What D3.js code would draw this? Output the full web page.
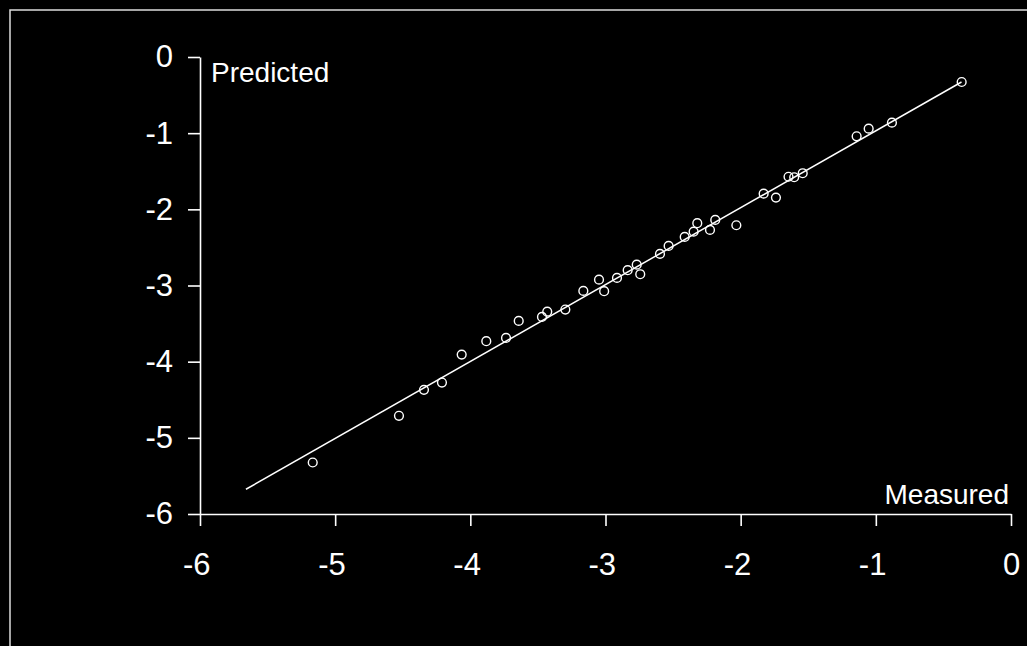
<!DOCTYPE html>
<html>
<head>
<meta charset="utf-8">
<script src="https://cdn.jsdelivr.net/npm/d3@7"></script>
<style>
  html, body { margin: 0; padding: 0; background: #000; }
  svg { display: block; }
  .axis path, .axis line { stroke: #fff; stroke-width: 1.6; }
  .axis text { fill: #fff; font-family: "Liberation Sans", Arial, sans-serif; font-size: 31px; }
</style>
</head>
<body>
<div id="chart"></div>
<script>
var width = 1027,
    height = 646;

// measured vs predicted values
var measured = [-5.166, -4.528, -4.343, -4.210, -4.064, -3.882, -3.736, -3.642, -3.470, -3.431,
    -3.297, -3.164, -3.048, -3.010, -2.915, -2.836, -2.769, -2.743, -2.597, -2.533,
    -2.414, -2.348, -2.321, -2.227, -2.188, -2.032, -1.830, -1.739, -1.646, -1.604,
    -1.541, -1.142, -1.053, -0.881, -0.365];
var predicted = [-5.324, -4.711, -4.370, -4.274, -3.907, -3.731, -3.688, -3.465, -3.412, -3.343,
    -3.316, -3.071, -2.923, -3.075, -2.900, -2.799, -2.726, -2.852, -2.585, -2.480,
    -2.362, -2.293, -2.182, -2.270, -2.139, -2.209, -1.794, -1.846, -1.572, -1.579,
    -1.526, -1.041, -0.941, -0.862, -0.328];

// end points of the fitted line
var fitX = [-5.66, -0.366];
var fitY = [-5.675, -0.328];

var xTicks = [-6, -5, -4, -3, -2, -1, 0];
var yTicks = [-6, -5, -4, -3, -2, -1, 0];

var x = d3.scaleLinear().domain([-6, 0]).range([200, 1011]);
var y = d3.scaleLinear().domain([-6, 0]).range([514, 57]);

// plain hyphen, no decimals
var fmt = function (d) { return String(d); };

var svg = d3.select("#chart").append("svg")
    .attr("width", width)
    .attr("height", height)
    .style("background", "#000");

// outer frame, runs off the right and bottom edges
svg.append("path")
    .attr("d", "M10," + (height + 5) + "V10H" + (width + 5))
    .attr("fill", "none")
    .attr("stroke", "#ddd")
    .attr("stroke-width", 1.5);

svg.append("g")
    .attr("class", "axis")
    .attr("transform", "translate(0," + y(-6) + ")")
    .call(d3.axisBottom(x).tickValues(xTicks).tickFormat(fmt).tickSize(12).tickSizeOuter(0).tickPadding(27))
    .call(function (g) { g.selectAll("text").attr("dx", function (d) { return d < 0 ? "-0.12em" : "0"; }); });

svg.append("g")
    .attr("class", "axis")
    .attr("transform", "translate(" + x(-6) + ",0)")
    .call(d3.axisLeft(y).tickValues(yTicks).tickFormat(fmt).tickSize(12).tickSizeOuter(0).tickPadding(15));

// fitted line
svg.append("line")
    .attr("x1", x(fitX[0]))
    .attr("y1", y(fitY[0]))
    .attr("x2", x(fitX[1]))
    .attr("y2", y(fitY[1]))
    .attr("stroke", "#fff")
    .attr("stroke-width", 1.5);

svg.selectAll(".dot")
    .data(measured)
    .enter().append("circle")
    .attr("class", "dot")
    .attr("cx", function (d) { return x(d); })
    .attr("cy", function (d, i) { return y(predicted[i]); })
    .attr("r", 4.4)
    .attr("fill", "none")
    .attr("stroke", "#fff")
    .attr("stroke-width", 1.4);

svg.append("text")
    .attr("x", 211)
    .attr("y", 82)
    .attr("fill", "#fff")
    .style("font-family", "'Liberation Sans', Arial, sans-serif")
    .style("font-size", "28px")
    .text("Predicted");

svg.append("text")
    .attr("x", 1009)
    .attr("y", 504)
    .attr("text-anchor", "end")
    .attr("fill", "#fff")
    .style("font-family", "'Liberation Sans', Arial, sans-serif")
    .style("font-size", "28px")
    .text("Measured");
</script>
</body>
</html>
